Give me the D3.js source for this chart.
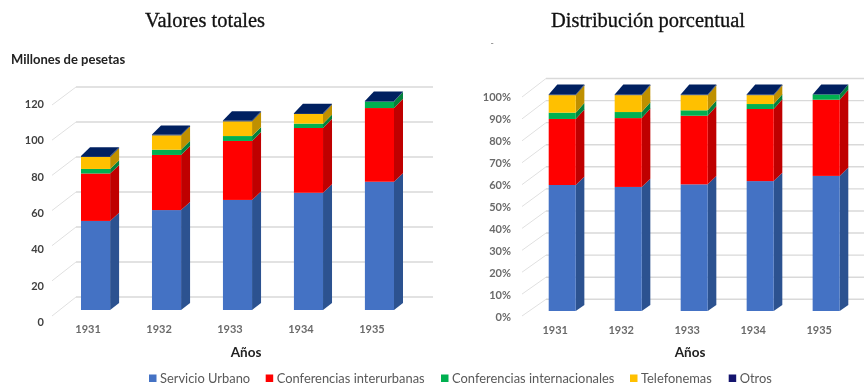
<!DOCTYPE html>
<html>
<head>
<meta charset="utf-8">
<script src="https://cdn.jsdelivr.net/npm/d3@7"></script>
<style>
    html, body { margin: 0; padding: 0; background: #fff; }
    svg { display: block; filter: blur(0.35px); }
</style>
</head>
<body>
<svg id="chart" width="864" height="385"></svg>
<script>
// DATA
const years = ['1931', '1932', '1933', '1934', '1935']
const seriesNames = ['Servicio Urbano', 'Conferencias interurbanas', 'Conferencias internacionales', 'Telefonemas', 'Otros']

const urbano = [50.9, 57.1, 62.9, 67.0, 73.3]
const interurbanas = [27.1, 31.5, 33.7, 37.0, 42.1]
const internacionales = [2.6, 3.0, 2.8, 2.5, 3.7]
const telefonemas = [6.9, 8.2, 8.4, 5.5, 0]
const otros = [0.5, 0.5, 0.5, 0.5, 0.4]

const urbanoPct = [58.2, 57.3, 58.5, 60.0, 62.4]
const interurbanasPct = [30.5, 31.8, 31.7, 33.3, 35.2]
const internacionalesPct = [2.9, 2.8, 2.5, 2.3, 2.4]
const telefonemasPct = [8.1, 7.8, 7.0, 4.1, 0]
const otrosPct = [0.3, 0.3, 0.3, 0.3, 0]

const ticksTotal = [0, 20, 40, 60, 80, 100, 120]
const ticksPct = [0, 10, 20, 30, 40, 50, 60, 70, 80, 90, 100]

// COLOURS
const frontColours = ['#4472c4', '#ff0000', '#00b050', '#ffc000', '#002060']
const sideColours = ['#2c5290', '#bf0000', '#04823c', '#bf9000', '#002060']
const legendColours = ['#4472c4', '#ff0000', '#00b050', '#ffc000', '#14146e']

const sans = 'Lato, "Open Sans", sans-serif'
const serif = '"Liberation Serif", serif'

let svg = d3.select('#chart')

function draw_panel(o) {
    let g = svg.append('g')

    let rows = years.map((year, i) => {
        let row = {year: year}
        seriesNames.forEach((name, s) => { row[name] = o.values[s][i] })
        return row
    })
    let stacked = d3.stack().keys(seriesNames)(rows)

    // X, Y SETUP
    let x = d3.scaleBand().domain(years).range(o.barRange).paddingInner(0.59)
    let y = d3.scaleLinear().domain([0, o.max]).range(o.barY)
    let back = d3.scaleLinear().domain([0, o.max]).range(o.backY)
    let front = d3.scaleLinear().domain([0, o.max]).range(o.frontY)
    let label = d3.scaleLinear().domain([0, o.max]).range(o.labelY)
    let rise = d3.scaleLinear().domain([0, o.max]).range(o.rise)

    // GRID
    g.selectAll('.grid').data(o.ticks).join('line')
        .attr('x1', o.wallX).attr('x2', o.gridEnd)
        .attr('y1', d => back(d)).attr('y2', d => back(d))
        .attr('stroke', '#d9d9d9').attr('stroke-width', 1.4)
    g.selectAll('.slant').data(o.ticks).join('line')
        .attr('x1', o.frontX).attr('x2', o.wallX)
        .attr('y1', d => front(d)).attr('y2', d => back(d))
        .attr('stroke', '#e0e0e0').attr('stroke-width', 1)

    // Y AXIS TICKS
    g.append('g')
        .attr('transform', `translate(${o.labelX}, 0)`)
        .call(d3.axisLeft(label).tickValues(o.ticks).tickSize(0).tickPadding(0).tickFormat(o.format))
        .call(a => a.select('.domain').remove())
        .attr('font-family', sans)
        .attr('font-size', 11)
        .attr('font-weight', o.axisWeight)
        .attr('color', o.axisColour)

    // X AXIS TICKS
    g.append('g')
        .attr('transform', `translate(${o.yearShift}, ${o.yearY})`)
        .call(d3.axisBottom(x).tickSize(0).tickPadding(0))
        .call(a => a.select('.domain').remove())
        .attr('font-family', sans)
        .attr('font-size', 11)
        .attr('font-weight', 'bold')
        .attr('color', '#6a6a6a')

    // BARS
    let depth = o.depth
    let bw = x.bandwidth()
    stacked.forEach((layer, s) => {
        let lg = g.append('g')
        lg.selectAll('polygon').data(layer).join('polygon')
            .attr('fill', sideColours[s])
            .attr('points', d => {
                let r = x(d.data.year) + bw
                return [[r, y(d[0])], [r + depth, y(d[0]) - rise(d[0])],
                        [r + depth, y(d[1]) - rise(d[1])], [r, y(d[1])]].join(' ')
            })
        lg.selectAll('rect').data(layer).join('rect')
            .attr('x', d => x(d.data.year))
            .attr('width', bw)
            .attr('y', d => y(d[1]))
            .attr('height', d => y(d[0]) - y(d[1]))
            .attr('fill', frontColours[s])
    })

    // TOP FACE
    g.selectAll('.top').data(stacked[stacked.length - 1]).join('polygon')
        .attr('fill', frontColours[4])
        .attr('points', d => {
            let l = x(d.data.year), t = y(d[1]), h = rise(d[1])
            return [[l, t], [l + bw, t], [l + bw + depth, t - h], [l + depth, t - h]].join(' ')
        })

    // TITLE
    g.append('text')
        .attr('x', o.titleX).attr('y', 27)
        .attr('text-anchor', 'middle')
        .attr('font-family', serif)
        .attr('font-size', 20.5)
        .attr('fill', '#111')
        .attr('stroke', '#111')
        .attr('stroke-width', 0.3)
        .text(o.title)

    // X AXIS LABEL
    g.append('text')
        .attr('x', o.xTitleX).attr('y', 356.5)
        .attr('text-anchor', 'middle')
        .attr('font-family', sans)
        .attr('font-size', 13.5)
        .attr('font-weight', 'bold')
        .attr('fill', '#222')
        .text('Años')
}

draw_panel({
    title: 'Valores totales', titleX: 205, xTitleX: 246,
    values: [urbano, interurbanas, internacionales, telefonemas, otros],
    max: 120, ticks: ticksTotal, format: d => d,
    barRange: [81, 394], barY: [310, 100],
    backY: [297, 87], frontY: [316, 105], labelY: [322, 104], rise: [7, 9.5],
    wallX: 76, frontX: 52, gridEnd: 433, labelX: 44,
    depth: 9, yearShift: -7.5, yearY: 325,
    axisWeight: 'bold', axisColour: '#404040'
})

draw_panel({
    title: 'Distribución porcentual', titleX: 648, xTitleX: 690,
    values: [urbanoPct, interurbanasPct, internacionalesPct, telefonemasPct, otrosPct],
    max: 100, ticks: ticksPct, format: d => d + '%',
    barRange: [548.7, 839.7], barY: [311, 94.5],
    backY: [299.3, 78.5], frontY: [316, 97], labelY: [317, 96.7], rise: [6, 10],
    wallX: 546, frontX: 522, gridEnd: 864, labelX: 511,
    depth: 8.6, yearShift: -7, yearY: 326,
    axisWeight: 'bold', axisColour: '#6a6a6a'
})

// Y AXIS TITLE
svg.append('text')
    .attr('x', 11).attr('y', 64)
    .attr('font-family', sans)
    .attr('font-size', 13)
    .attr('font-weight', 'bold')
    .attr('fill', '#222')
    .text('Millones de pesetas')

// STRAY MARK ABOVE THE RIGHT PANEL
svg.append('text')
    .attr('x', 490.5).attr('y', 46)
    .attr('font-family', sans)
    .attr('font-size', 9)
    .attr('fill', '#777')
    .text('-')

// LEGEND
let legendX = d3.scaleOrdinal().domain(seriesNames).range([149, 265.7, 441, 630, 728.7])
let legend = svg.append('g')
    .selectAll('g')
    .data(seriesNames)
    .join('g')
    .attr('transform', d => `translate(${legendX(d)}, 374.5)`)
legend.append('rect')
    .attr('width', 7.5).attr('height', 7.5)
    .attr('fill', (d, i) => legendColours[i])
legend.append('text')
    .attr('x', 11).attr('y', 8.5)
    .attr('font-family', sans)
    .attr('font-size', 12.9)
    .attr('fill', '#595959')
    .text(d => d)
</script>
</body>
</html>
